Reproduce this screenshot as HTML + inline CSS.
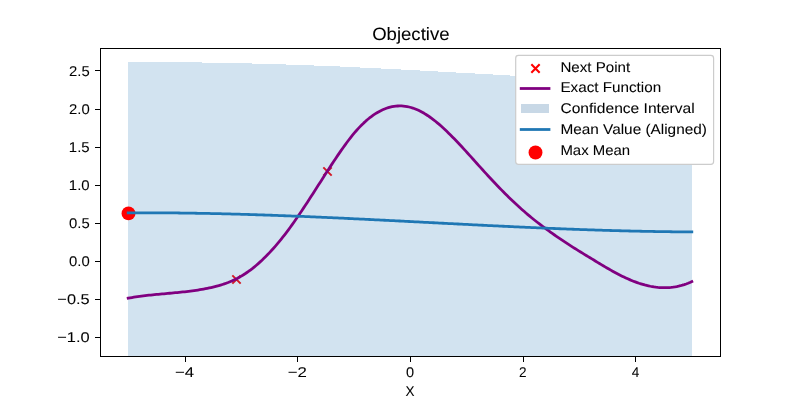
<!DOCTYPE html>
<html><head><meta charset="utf-8"><title>Objective</title>
<style>
html,body{margin:0;padding:0;background:#fff;}
body{width:800px;height:400px;overflow:hidden;font-family:"Liberation Sans",sans-serif;}
svg{display:block;}
svg text{font-family:"Liberation Sans",sans-serif;fill:#000;stroke:#000;stroke-width:0.06px;text-rendering:geometricPrecision;}
</style></head><body>
<svg width="800" height="400" viewBox="0 0 800 400">
<rect x="0" y="0" width="800" height="400" fill="#ffffff"/>
<defs><clipPath id="ax"><rect x="100" y="48" width="620" height="308"/></clipPath></defs>
<g clip-path="url(#ax)">
<polygon points="128,62 202,62 202,63 252,63 252,64 286,64 286,65 314,65 314,66 340,66 340,67 360,67 360,68 381,68 381,69 401,69 401,70 420,70 420,71 438,71 438,72 456,72 456,73 475,73 475,74 493,74 493,75 510,75 510,76 528,76 528,77 547,77 547,78 567,78 567,79 590,79 590,80 620,80 620,81 660,81 660,82 692,82 692,356 128,356" fill="#d2e3f0" shape-rendering="crispEdges"/>
<path d="M232.33,275.33 L240.67,283.67 M232.33,283.67 L240.67,275.33" stroke="#d21824" stroke-width="1.95" fill="none"/>
<path d="M323.33,167.33 L331.67,175.67 M323.33,175.67 L331.67,167.33" stroke="#d21824" stroke-width="1.95" fill="none"/>
<circle cx="128.5" cy="213.4" r="6.95" fill="#ff0000"/>
<path d="M128.18,298.18 L130.07,297.84 L131.95,297.52 L133.84,297.22 L135.72,296.93 L137.61,296.65 L139.49,296.39 L141.38,296.13 L143.26,295.89 L145.15,295.67 L147.03,295.45 L148.92,295.24 L150.80,295.03 L152.69,294.84 L154.57,294.65 L156.46,294.46 L158.34,294.28 L160.23,294.11 L162.11,293.94 L164.00,293.76 L165.88,293.59 L167.77,293.42 L169.65,293.25 L171.54,293.08 L173.42,292.91 L175.31,292.73 L177.19,292.55 L179.08,292.36 L180.96,292.17 L182.85,291.97 L184.73,291.76 L186.62,291.54 L188.50,291.32 L190.39,291.08 L192.27,290.83 L194.16,290.57 L196.04,290.30 L197.93,290.02 L199.81,289.72 L201.70,289.40 L203.58,289.07 L205.47,288.72 L207.35,288.35 L209.24,287.97 L211.12,287.56 L213.01,287.13 L214.90,286.67 L216.78,286.18 L218.67,285.67 L220.55,285.11 L222.44,284.52 L224.32,283.89 L226.21,283.22 L228.09,282.51 L229.98,281.74 L231.86,280.93 L233.75,280.07 L235.63,279.16 L237.52,278.20 L239.40,277.17 L241.29,276.09 L243.17,274.95 L245.06,273.75 L246.94,272.48 L248.83,271.15 L250.71,269.76 L252.60,268.31 L254.48,266.80 L256.37,265.23 L258.25,263.60 L260.14,261.91 L262.02,260.17 L263.91,258.36 L265.79,256.50 L267.68,254.58 L269.56,252.60 L271.45,250.57 L273.33,248.48 L275.22,246.33 L277.10,244.13 L278.99,241.88 L280.87,239.57 L282.76,237.21 L284.64,234.79 L286.53,232.33 L288.41,229.81 L290.30,227.24 L292.18,224.62 L294.07,221.97 L295.95,219.27 L297.84,216.54 L299.72,213.77 L301.61,210.97 L303.49,208.14 L305.38,205.29 L307.26,202.42 L309.15,199.52 L311.03,196.61 L312.92,193.69 L314.80,190.76 L316.69,187.82 L318.57,184.87 L320.46,181.93 L322.34,178.98 L324.23,176.04 L326.11,173.11 L328.00,170.18 L329.88,167.27 L331.77,164.38 L333.65,161.52 L335.54,158.68 L337.42,155.87 L339.31,153.10 L341.19,150.37 L343.08,147.70 L344.97,145.07 L346.85,142.50 L348.74,140.00 L350.62,137.56 L352.51,135.21 L354.39,132.93 L356.28,130.74 L358.16,128.63 L360.05,126.62 L361.93,124.70 L363.82,122.88 L365.70,121.15 L367.59,119.52 L369.47,117.97 L371.36,116.53 L373.24,115.17 L375.13,113.91 L377.01,112.74 L378.90,111.67 L380.78,110.68 L382.67,109.79 L384.55,109.00 L386.44,108.29 L388.32,107.68 L390.21,107.16 L392.09,106.73 L393.98,106.39 L395.86,106.15 L397.75,106.00 L399.63,105.94 L401.52,105.97 L403.40,106.09 L405.29,106.30 L407.17,106.60 L409.06,107.00 L410.94,107.48 L412.83,108.06 L414.71,108.72 L416.60,109.48 L418.48,110.32 L420.37,111.24 L422.25,112.25 L424.14,113.33 L426.02,114.48 L427.91,115.71 L429.79,117.01 L431.68,118.37 L433.56,119.80 L435.45,121.28 L437.33,122.83 L439.22,124.43 L441.10,126.08 L442.99,127.77 L444.87,129.52 L446.76,131.31 L448.64,133.13 L450.53,135.00 L452.41,136.90 L454.30,138.83 L456.18,140.79 L458.07,142.78 L459.95,144.79 L461.84,146.82 L463.72,148.86 L465.61,150.93 L467.49,153.00 L469.38,155.09 L471.26,157.18 L473.15,159.28 L475.03,161.38 L476.92,163.48 L478.81,165.58 L480.69,167.67 L482.58,169.76 L484.46,171.84 L486.35,173.91 L488.23,175.97 L490.12,178.01 L492.00,180.04 L493.89,182.05 L495.77,184.04 L497.66,186.01 L499.54,187.96 L501.43,189.89 L503.31,191.80 L505.20,193.69 L507.08,195.56 L508.97,197.40 L510.85,199.22 L512.74,201.02 L514.62,202.80 L516.51,204.56 L518.39,206.29 L520.28,207.99 L522.16,209.67 L524.05,211.33 L525.93,212.96 L527.82,214.57 L529.70,216.15 L531.59,217.70 L533.47,219.23 L535.36,220.74 L537.24,222.23 L539.13,223.69 L541.01,225.14 L542.90,226.56 L544.78,227.97 L546.67,229.35 L548.55,230.72 L550.44,232.08 L552.32,233.42 L554.21,234.74 L556.09,236.05 L557.98,237.35 L559.86,238.64 L561.75,239.91 L563.63,241.17 L565.52,242.42 L567.40,243.65 L569.29,244.88 L571.17,246.10 L573.06,247.30 L574.94,248.50 L576.83,249.68 L578.71,250.86 L580.60,252.03 L582.48,253.19 L584.37,254.35 L586.25,255.50 L588.14,256.64 L590.02,257.78 L591.91,258.92 L593.79,260.05 L595.68,261.19 L597.56,262.32 L599.45,263.45 L601.33,264.58 L603.22,265.71 L605.10,266.83 L606.99,267.95 L608.88,269.05 L610.76,270.14 L612.65,271.20 L614.53,272.25 L616.42,273.27 L618.30,274.26 L620.19,275.23 L622.07,276.17 L623.96,277.09 L625.84,277.97 L627.73,278.82 L629.61,279.64 L631.50,280.43 L633.38,281.18 L635.27,281.90 L637.15,282.58 L639.04,283.23 L640.92,283.83 L642.81,284.40 L644.69,284.93 L646.58,285.41 L648.46,285.85 L650.35,286.25 L652.23,286.60 L654.12,286.91 L656.00,287.17 L657.89,287.38 L659.77,287.54 L661.66,287.65 L663.54,287.70 L665.43,287.71 L667.31,287.66 L669.20,287.56 L671.08,287.40 L672.97,287.18 L674.85,286.91 L676.74,286.57 L678.62,286.18 L680.51,285.72 L682.39,285.20 L684.28,284.61 L686.16,283.97 L688.05,283.25 L689.93,282.47 L691.82,281.62" fill="none" stroke="#800080" stroke-width="2.78" stroke-linejoin="round" stroke-linecap="square"/>
<path d="M128.18,212.87 L130.07,212.86 L131.95,212.85 L133.84,212.84 L135.72,212.83 L137.61,212.82 L139.49,212.82 L141.38,212.81 L143.26,212.81 L145.15,212.81 L147.03,212.81 L148.92,212.81 L150.80,212.81 L152.69,212.82 L154.57,212.82 L156.46,212.83 L158.34,212.84 L160.23,212.85 L162.11,212.86 L164.00,212.87 L165.88,212.88 L167.77,212.89 L169.65,212.91 L171.54,212.92 L173.42,212.94 L175.31,212.96 L177.19,212.98 L179.08,213.00 L180.96,213.02 L182.85,213.05 L184.73,213.07 L186.62,213.10 L188.50,213.12 L190.39,213.15 L192.27,213.18 L194.16,213.21 L196.04,213.24 L197.93,213.27 L199.81,213.30 L201.70,213.34 L203.58,213.37 L205.47,213.41 L207.35,213.45 L209.24,213.48 L211.12,213.52 L213.01,213.56 L214.90,213.60 L216.78,213.65 L218.67,213.69 L220.55,213.73 L222.44,213.78 L224.32,213.82 L226.21,213.87 L228.09,213.92 L229.98,213.97 L231.86,214.02 L233.75,214.07 L235.63,214.12 L237.52,214.17 L239.40,214.22 L241.29,214.28 L243.17,214.33 L245.06,214.39 L246.94,214.44 L248.83,214.50 L250.71,214.56 L252.60,214.62 L254.48,214.68 L256.37,214.74 L258.25,214.80 L260.14,214.86 L262.02,214.92 L263.91,214.99 L265.79,215.05 L267.68,215.12 L269.56,215.18 L271.45,215.25 L273.33,215.32 L275.22,215.38 L277.10,215.45 L278.99,215.52 L280.87,215.59 L282.76,215.66 L284.64,215.74 L286.53,215.81 L288.41,215.88 L290.30,215.95 L292.18,216.03 L294.07,216.10 L295.95,216.18 L297.84,216.25 L299.72,216.33 L301.61,216.41 L303.49,216.48 L305.38,216.56 L307.26,216.64 L309.15,216.72 L311.03,216.80 L312.92,216.88 L314.80,216.96 L316.69,217.04 L318.57,217.13 L320.46,217.21 L322.34,217.29 L324.23,217.37 L326.11,217.46 L328.00,217.54 L329.88,217.63 L331.77,217.71 L333.65,217.80 L335.54,217.88 L337.42,217.97 L339.31,218.06 L341.19,218.15 L343.08,218.23 L344.97,218.32 L346.85,218.41 L348.74,218.50 L350.62,218.59 L352.51,218.68 L354.39,218.77 L356.28,218.86 L358.16,218.95 L360.05,219.04 L361.93,219.13 L363.82,219.22 L365.70,219.32 L367.59,219.41 L369.47,219.50 L371.36,219.59 L373.24,219.69 L375.13,219.78 L377.01,219.87 L378.90,219.97 L380.78,220.06 L382.67,220.16 L384.55,220.25 L386.44,220.35 L388.32,220.44 L390.21,220.54 L392.09,220.63 L393.98,220.73 L395.86,220.82 L397.75,220.92 L399.63,221.01 L401.52,221.11 L403.40,221.21 L405.29,221.30 L407.17,221.40 L409.06,221.49 L410.94,221.59 L412.83,221.69 L414.71,221.78 L416.60,221.88 L418.48,221.98 L420.37,222.08 L422.25,222.17 L424.14,222.27 L426.02,222.37 L427.91,222.46 L429.79,222.56 L431.68,222.66 L433.56,222.75 L435.45,222.85 L437.33,222.95 L439.22,223.04 L441.10,223.14 L442.99,223.24 L444.87,223.33 L446.76,223.43 L448.64,223.53 L450.53,223.62 L452.41,223.72 L454.30,223.82 L456.18,223.91 L458.07,224.01 L459.95,224.10 L461.84,224.20 L463.72,224.29 L465.61,224.39 L467.49,224.48 L469.38,224.58 L471.26,224.67 L473.15,224.77 L475.03,224.86 L476.92,224.96 L478.81,225.05 L480.69,225.14 L482.58,225.24 L484.46,225.33 L486.35,225.42 L488.23,225.52 L490.12,225.61 L492.00,225.70 L493.89,225.79 L495.77,225.88 L497.66,225.97 L499.54,226.06 L501.43,226.15 L503.31,226.24 L505.20,226.33 L507.08,226.42 L508.97,226.51 L510.85,226.60 L512.74,226.69 L514.62,226.78 L516.51,226.86 L518.39,226.95 L520.28,227.04 L522.16,227.12 L524.05,227.21 L525.93,227.29 L527.82,227.38 L529.70,227.46 L531.59,227.55 L533.47,227.63 L535.36,227.71 L537.24,227.79 L539.13,227.88 L541.01,227.96 L542.90,228.04 L544.78,228.12 L546.67,228.20 L548.55,228.27 L550.44,228.35 L552.32,228.43 L554.21,228.51 L556.09,228.58 L557.98,228.66 L559.86,228.74 L561.75,228.81 L563.63,228.88 L565.52,228.96 L567.40,229.03 L569.29,229.10 L571.17,229.17 L573.06,229.24 L574.94,229.31 L576.83,229.38 L578.71,229.45 L580.60,229.52 L582.48,229.59 L584.37,229.65 L586.25,229.72 L588.14,229.78 L590.02,229.85 L591.91,229.91 L593.79,229.97 L595.68,230.04 L597.56,230.10 L599.45,230.16 L601.33,230.22 L603.22,230.27 L605.10,230.33 L606.99,230.39 L608.88,230.44 L610.76,230.50 L612.65,230.55 L614.53,230.61 L616.42,230.66 L618.30,230.71 L620.19,230.76 L622.07,230.81 L623.96,230.86 L625.84,230.91 L627.73,230.96 L629.61,231.00 L631.50,231.05 L633.38,231.09 L635.27,231.13 L637.15,231.18 L639.04,231.22 L640.92,231.26 L642.81,231.30 L644.69,231.33 L646.58,231.37 L648.46,231.41 L650.35,231.44 L652.23,231.48 L654.12,231.51 L656.00,231.54 L657.89,231.57 L659.77,231.60 L661.66,231.63 L663.54,231.66 L665.43,231.68 L667.31,231.71 L669.20,231.73 L671.08,231.75 L672.97,231.78 L674.85,231.80 L676.74,231.82 L678.62,231.83 L680.51,231.85 L682.39,231.87 L684.28,231.88 L686.16,231.89 L688.05,231.91 L689.93,231.92 L691.82,231.93" fill="none" stroke="#1f77b4" stroke-width="2.78" stroke-linejoin="round" stroke-linecap="square"/>
</g>
<g shape-rendering="crispEdges" stroke="#000" stroke-width="1" fill="none">
<rect x="100.5" y="48.5" width="620" height="308"/>
<line x1="185.5" y1="356.5" x2="185.5" y2="361.5"/>
<line x1="297.5" y1="356.5" x2="297.5" y2="361.5"/>
<line x1="410.5" y1="356.5" x2="410.5" y2="361.5"/>
<line x1="523.5" y1="356.5" x2="523.5" y2="361.5"/>
<line x1="635.5" y1="356.5" x2="635.5" y2="361.5"/>
<line x1="95" y1="70.5" x2="100.5" y2="70.5"/>
<line x1="95" y1="109.5" x2="100.5" y2="109.5"/>
<line x1="95" y1="147.5" x2="100.5" y2="147.5"/>
<line x1="95" y1="185.5" x2="100.5" y2="185.5"/>
<line x1="95" y1="223.5" x2="100.5" y2="223.5"/>
<line x1="95" y1="261.5" x2="100.5" y2="261.5"/>
<line x1="95" y1="299.5" x2="100.5" y2="299.5"/>
<line x1="95" y1="337.5" x2="100.5" y2="337.5"/>
</g>
<rect x="515.7" y="55.4" width="197.9" height="108.9" rx="2.8" ry="2.8" fill="#ffffff" stroke="#cccccc" stroke-width="1.2"/>
<path d="M531.33,64.33 L539.67,72.67 M531.33,72.67 L539.67,64.33" stroke="#ff0000" stroke-width="2.08" fill="none" stroke-linecap="butt"/>
<line x1="521.2" y1="88.50" x2="549.0" y2="88.50" stroke="#800080" stroke-width="2.78" stroke-linecap="square"/>
<rect x="521" y="104" width="28" height="9" fill="#c8d8e6" shape-rendering="crispEdges"/>
<line x1="521.2" y1="129.50" x2="549.0" y2="129.50" stroke="#1f77b4" stroke-width="2.78" stroke-linecap="square"/>
<circle cx="535.5" cy="152.50" r="6.95" fill="#ff0000"/>
<g style="filter:grayscale(1)">
<text x="174.96" y="377.0" font-size="14.15" text-anchor="start" textLength="19.17" lengthAdjust="spacingAndGlyphs">−4</text>
<text x="287.69" y="377.0" font-size="14.15" text-anchor="start" textLength="19.17" lengthAdjust="spacingAndGlyphs">−2</text>
<text x="405.90" y="377.0" font-size="14.15" text-anchor="start" textLength="8.10" lengthAdjust="spacingAndGlyphs">0</text>
<text x="518.95" y="377.0" font-size="14.15" text-anchor="start" textLength="7.55" lengthAdjust="spacingAndGlyphs">2</text>
<text x="631.68" y="377.0" font-size="14.15" text-anchor="start" textLength="7.55" lengthAdjust="spacingAndGlyphs">4</text>
<text x="69.00" y="75.70" font-size="14.15" text-anchor="start" textLength="20.68" lengthAdjust="spacingAndGlyphs">2.5</text>
<text x="69.00" y="113.70" font-size="14.15" text-anchor="start" textLength="20.68" lengthAdjust="spacingAndGlyphs">2.0</text>
<text x="68.88" y="151.70" font-size="14.15" text-anchor="start" textLength="20.80" lengthAdjust="spacingAndGlyphs">1.5</text>
<text x="68.88" y="189.70" font-size="14.15" text-anchor="start" textLength="20.80" lengthAdjust="spacingAndGlyphs">1.0</text>
<text x="69.00" y="227.70" font-size="14.15" text-anchor="start" textLength="20.68" lengthAdjust="spacingAndGlyphs">0.5</text>
<text x="69.00" y="265.70" font-size="14.15" text-anchor="start" textLength="20.68" lengthAdjust="spacingAndGlyphs">0.0</text>
<text x="57.38" y="303.70" font-size="14.15" text-anchor="start" textLength="32.30" lengthAdjust="spacingAndGlyphs">−0.5</text>
<text x="57.25" y="341.70" font-size="14.15" text-anchor="start" textLength="32.43" lengthAdjust="spacingAndGlyphs">−1.0</text>
<text x="405.6" y="396.0" font-size="14.15" text-anchor="start" textLength="9.0" lengthAdjust="spacingAndGlyphs">X</text>
<text x="372.2" y="39.7" font-size="17.8" text-anchor="start" textLength="77.3" lengthAdjust="spacingAndGlyphs">Objective</text>
<text x="560.4" y="71.60" font-size="14.15" text-anchor="start" textLength="69.85" lengthAdjust="spacingAndGlyphs">Next Point</text>
<text x="560.4" y="92.43" font-size="14.15" text-anchor="start" textLength="100.72" lengthAdjust="spacingAndGlyphs">Exact Function</text>
<text x="560.4" y="113.26" font-size="14.15" text-anchor="start" textLength="134.35" lengthAdjust="spacingAndGlyphs">Confidence Interval</text>
<text x="560.4" y="134.09" font-size="14.15" text-anchor="start" textLength="146.48" lengthAdjust="spacingAndGlyphs">Mean Value (Aligned)</text>
<text x="560.4" y="154.92" font-size="14.15" text-anchor="start" textLength="69.72" lengthAdjust="spacingAndGlyphs">Max Mean</text>
</g>
</svg></body></html>
